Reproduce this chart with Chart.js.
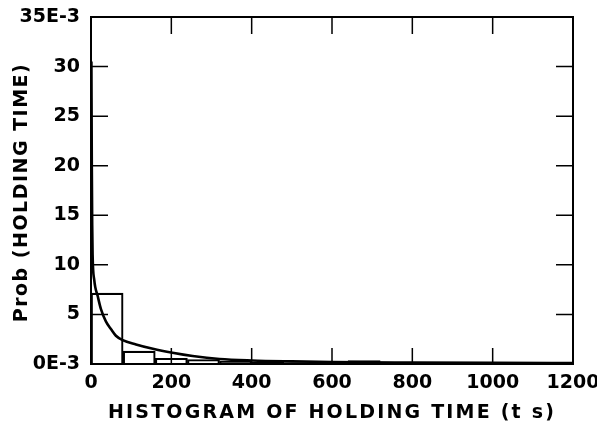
<!DOCTYPE html>
<html>
<head>
<meta charset="utf-8">
<script src="https://cdn.jsdelivr.net/npm/chart.js@4/dist/chart.umd.min.js"></script>
<style>
  html, body { margin: 0; padding: 0; background: #fff; }
  #wrap { width: 597px; height: 422px; }
</style>
</head>
<body>
<div id="wrap"><canvas id="histChart" width="597" height="422"></canvas></div>
<script>
// histogram bins (centre of 80 s bins) and probabilities in units of 1E-3
const binCenters = [40, 120, 200, 280, 360, 440, 520, 600, 680, 760, 840, 920, 1000, 1080, 1160];
const binProbs = [7.15, 1.3, 0.58, 0.45, 0.3, 0.2, 0.15, 0.12, 0.35, 0.12, 0.1, 0.08, 0.07, 0.06, 0.05];

// fitted curve
const curveT = [1, 2, 3, 4, 8, 17, 25, 37, 50, 62, 79, 112, 154, 203, 253, 320, 400, 500, 600, 800, 1000, 1200];
const curveP = [30.5, 20, 14, 11, 8.5, 6.8, 5.5, 4.3, 3.5, 2.85, 2.4, 1.97, 1.53, 1.13, 0.8, 0.5, 0.35, 0.26, 0.2, 0.15, 0.12, 0.1];

const yTicks = [0, 5, 10, 15, 20, 25, 30, 35];
const xTicks = [0, 200, 400, 600, 800, 1000, 1200];
const xTitle = 'HISTOGRAM OF HOLDING TIME (t s)';
const yTitle = 'Prob (HOLDING TIME)';

const labelFont = {family: 'DejaVu Sans', size: 19, weight: 'bold'};

// frame, inward ticks on all four sides, and the spaced-out axis titles
const frameTicks = {
  id: 'frameTicks',
  afterDraw(chart) {
    const ctx = chart.ctx;
    const a = chart.chartArea;
    const xs = chart.scales.x, ys = chart.scales.y;
    ctx.save();
    ctx.strokeStyle = '#000';
    ctx.lineWidth = 2;
    ctx.strokeRect(a.left, a.top, a.right - a.left, a.bottom - a.top);
    ctx.lineWidth = 1.5;
    ctx.beginPath();
    yTicks.slice(1, -1).forEach(v => {
      const y = ys.getPixelForValue(v);
      ctx.moveTo(a.left, y);
      ctx.lineTo(a.left + 17, y);
      ctx.moveTo(a.right, y);
      ctx.lineTo(a.right - 17, y);
    });
    xTicks.slice(1, -1).forEach(v => {
      const x = xs.getPixelForValue(v);
      ctx.moveTo(x, a.bottom);
      ctx.lineTo(x, a.bottom - 16);
      ctx.moveTo(x, a.top);
      ctx.lineTo(x, a.top + 17);
    });
    ctx.stroke();

    ctx.fillStyle = '#000';
    ctx.font = 'bold 19px "DejaVu Sans"';
    ctx.textAlign = 'center';
    ctx.textBaseline = 'middle';
    ctx.letterSpacing = '2.2px';
    ctx.fillText(xTitle, (a.left + a.right) / 2, 413);
    ctx.letterSpacing = '1.5px';
    ctx.translate(22, (a.top + a.bottom) / 2 + 2);
    ctx.rotate(-Math.PI / 2);
    ctx.fillText(yTitle, 0, 0);
    ctx.restore();
  }
};

new Chart(document.getElementById('histChart'), {
  data: {
    datasets: [
      {
        type: 'line',
        data: curveT.map((t, i) => ({x: t, y: curveP[i]})),
        borderColor: '#000',
        borderWidth: 2.6,
        pointRadius: 0,
        cubicInterpolationMode: 'monotone',
        fill: false
      },
      {
        type: 'bar',
        data: binCenters.map((t, i) => ({x: t, y: binProbs[i]})),
        backgroundColor: 'rgba(0,0,0,0)',
        borderColor: '#000',
        borderWidth: 1.5,
        borderSkipped: 'bottom',
        barPercentage: 1,
        categoryPercentage: 1
      }
    ]
  },
  options: {
    responsive: false,
    animation: false,
    events: [],
    layout: {padding: {left: 0, top: 17, right: 24, bottom: 0}},
    plugins: {legend: {display: false}, tooltip: {enabled: false}},
    scales: {
      x: {
        type: 'linear',
        min: 0,
        max: 1200,
        offset: false,
        afterFit: s => { s.height = 58; s.paddingLeft = 0; s.paddingRight = 0; },
        afterBuildTicks: s => { s.ticks = xTicks.map(v => ({value: v})); },
        grid: {display: false},
        border: {display: false},
        ticks: {color: '#000', font: labelFont, padding: 0, maxRotation: 0, autoSkip: false,
          callback: v => String(v)}
      },
      y: {
        min: 0,
        max: 35,
        afterFit: s => { s.width = 91; s.paddingTop = 0; s.paddingBottom = 0; },
        afterBuildTicks: s => { s.ticks = yTicks.map(v => ({value: v})); },
        grid: {display: false},
        border: {display: false},
        ticks: {
          color: '#000', font: labelFont, padding: 3, autoSkip: false,
          callback: v => (v === 0 ? '0E-3' : v === 35 ? '35E-3' : String(v))
        }
      }
    }
  },
  plugins: [frameTicks]
});
</script>
</body>
</html>
